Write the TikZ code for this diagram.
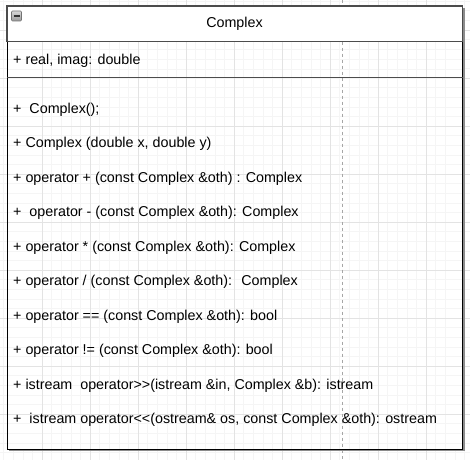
\documentclass[tikz,border=0pt]{standalone}
\usepackage{fontspec}
\setmainfont{Liberation Sans}
\newcommand{\umlsize}{\fontsize{14.3}{17}\selectfont}
\begin{document}
\begin{tikzpicture}[x=1pt,y=-1pt,
  gridminor/.style={draw=black!4, line width=0.6pt},
  gridmajor/.style={draw=black!11, line width=0.8pt},
  pageedge/.style={draw=black!35, line width=0.7pt, dash pattern=on 3pt off 3pt},
  member/.style={anchor=base west, inner sep=0pt, font=\umlsize, text=black},
  classtitle/.style={anchor=base, inner sep=0pt, font=\umlsize, text=black},
  headline/.style={draw=black!70, line width=1.4pt},
  outline/.style={draw=black, line width=1pt},
  shadowbox/.style={fill=black!45}]
\useasboundingbox (0,0) rectangle (470,460);
\fill[white] (0,0) rectangle (470,460);

% background grid
\foreach \i in {0,...,49} {
  \draw[gridminor] ({-6+9.6*\i},0) -- ({-6+9.6*\i},460);
  \draw[gridminor] (0,{-18+9.6*\i}) -- (470,{-18+9.6*\i});
}
\foreach \i in {0,...,10} {
  \draw[gridmajor] ({-6+48*\i},0) -- ({-6+48*\i},460);
  \draw[gridmajor] (0,{-18+48*\i}) -- (470,{-18+48*\i});
}
\draw[pageedge] (342,0) -- (342,460);

% class box: shadow, outline, header
\fill[shadowbox] (9,8) rectangle (464.5,451);
\fill[white] (7,6) rectangle (462.5,449);
\draw[gridminor] \foreach \i in {6,...,47} {({-6+9.6*\i},77.7) -- ({-6+9.6*\i},449)};
\draw[gridminor] \foreach \i in {10,...,48} {(7,{-18+9.6*\i}) -- (462.5,{-18+9.6*\i})};
\draw[gridmajor] \foreach \i in {1,...,9} {({-6+48*\i},77.7) -- ({-6+48*\i},449)};
\draw[gridmajor] \foreach \i in {3,...,9} {(7,{-18+48*\i}) -- (462.5,{-18+48*\i})};
\draw[gridminor] \foreach \i in {6,...,47} {({-6+9.6*\i},41.7) -- ({-6+9.6*\i},77.7)};
\draw[gridminor] (7,49.6) -- (462.5,49.6) (7,59.2) -- (462.5,59.2) (7,68.8) -- (462.5,68.8);
\draw[gridmajor] \foreach \i in {1,...,9} {({-6+48*\i},41.7) -- ({-6+48*\i},77.7)};
\draw[pageedge] (342,41.7) -- (342,449);
\draw[outline] (7,6) rectangle (462.5,449);
\draw[headline, fill=white] (7,6) rectangle (462.5,41.7);
\draw[headline] (7,77.7) -- (462.5,77.7);

% collapse toggle
\node[draw=black!55, line width=0.6pt, rounded corners=1pt, minimum width=10pt, minimum height=10pt,
      inner sep=0pt, top color=black!15, bottom color=black!40] (toggle) at (16.5,16) {};
\draw[black!80, line width=1.3pt] (13.5,16) -- (19.5,16);

\node[classtitle] (title) at (234.5,28) {Complex};

\node[member] (attrs) at (13,64) {+ real, imag: double};

\node[member] (m1)  at (13,113)   {+~ Complex();};
\node[member] (m2)  at (13,147.5) {+ Complex (double x, double y)};
\node[member] (m3)  at (13,182)   {+ operator + (const Complex \&oth) : Complex};
\node[member] (m4)  at (13,216.5) {+~ operator - (const Complex \&oth): Complex};
\node[member] (m5)  at (13,251)   {+ operator * (const Complex \&oth): Complex};
\node[member] (m6)  at (13,285.5) {+ operator / (const Complex \&oth):~ Complex};
\node[member] (m7)  at (13,320)   {+ operator == (const Complex \&oth): bool};
\node[member] (m8)  at (13,354.5) {+ operator != (const Complex \&oth): bool};
\node[member] (m9)  at (13,389)   {+ istream~ operator>\kern0pt>(istream \&in, Complex \&b): istream};
\node[member] (m10) at (13,423.5) {+~ istream operator<\kern0pt<(ostream\& os, const Complex \&oth): ostream};
\end{tikzpicture}
\end{document}
